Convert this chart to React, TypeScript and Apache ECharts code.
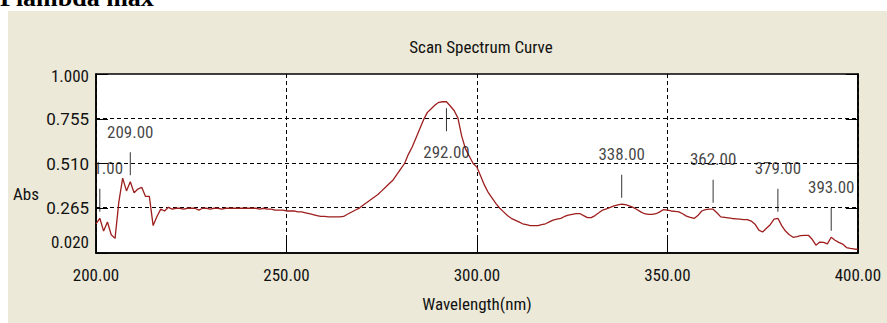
import React, { useEffect, useRef } from "react";
import * as echarts from "echarts";

// Scan spectrum, absorbance sampled every 1 nm from 200 nm to 400 nm
const startNm = 200;
const absorbance = [
  0.18, 0.21, 0.14, 0.19, 0.12, 0.1, 0.3, 0.43, 0.36, 0.41,
  0.35, 0.37, 0.38, 0.33, 0.33, 0.17, 0.22, 0.26, 0.25, 0.27,
  0.26, 0.265, 0.265, 0.26, 0.265, 0.265, 0.265, 0.255, 0.265, 0.265,
  0.26, 0.265, 0.265, 0.26, 0.265, 0.265, 0.265, 0.265, 0.265, 0.265,
  0.265, 0.265, 0.265, 0.26, 0.265, 0.26, 0.26, 0.255, 0.255, 0.255,
  0.25, 0.25, 0.25, 0.245, 0.245, 0.24, 0.235, 0.23, 0.225, 0.22,
  0.22, 0.218, 0.218, 0.218, 0.218, 0.22, 0.232, 0.243, 0.254, 0.264,
  0.28, 0.295, 0.31, 0.325, 0.34, 0.36, 0.38, 0.4, 0.42, 0.45,
  0.48, 0.51, 0.56, 0.6, 0.65, 0.7, 0.75, 0.79, 0.81, 0.83,
  0.845, 0.848, 0.848, 0.825, 0.8, 0.76, 0.66, 0.59, 0.55, 0.51,
  0.49, 0.44, 0.39, 0.35, 0.32, 0.29, 0.265, 0.245, 0.225, 0.21,
  0.2, 0.19, 0.18, 0.175, 0.17, 0.17, 0.17, 0.175, 0.18, 0.19,
  0.2, 0.205, 0.21, 0.22, 0.227, 0.232, 0.236, 0.236, 0.225, 0.214,
  0.214, 0.225, 0.24, 0.255, 0.262, 0.27, 0.278, 0.284, 0.287, 0.285,
  0.278, 0.27, 0.258, 0.245, 0.235, 0.232, 0.232, 0.235, 0.245, 0.258,
  0.255, 0.25, 0.248, 0.245, 0.235, 0.222, 0.215, 0.209, 0.225, 0.25,
  0.258, 0.26, 0.26, 0.24, 0.218, 0.215, 0.212, 0.209, 0.207, 0.205,
  0.203, 0.203, 0.195, 0.178, 0.145, 0.135, 0.155, 0.175, 0.205, 0.21,
  0.17, 0.14, 0.12, 0.106, 0.11, 0.115, 0.117, 0.117, 0.095, 0.063,
  0.08, 0.078, 0.07, 0.106, 0.09, 0.078, 0.069, 0.05, 0.045, 0.042,
  0.04,
];

// Wavelengths picked as peaks
const peakNm = [201, 209, 292, 338, 362, 379, 393];

const yTicks = [0.02, 0.265, 0.51, 0.755, 1.0];
const yGridLevels = [0.265, 0.51, 0.755];
const xMin = 200;
const xMax = 400;
const xStep = 50;

// Roboto is drawn in its condensed width (font-stretch set on the container)
const FONT = "Roboto, 'Noto Sans', sans-serif";
const PANEL = "#ECE9D8";
const CURVE = "#9E1E1E";

export default function App() {
  const ref = useRef<HTMLDivElement>(null);

  useEffect(() => {
    if (!ref.current) return;
    const chart = echarts.init(ref.current, undefined, { renderer: "svg" });

    const curve = absorbance.map((v, i) => [startNm + i, v]);

    const peaks = peakNm.map((nm) => {
      const v = absorbance[nm - startNm];
      const below = v > 0.7;
      // the leftmost label runs off the plot edge, only its tail shows
      const clipped = nm < 205;
      const text = nm.toFixed(2);
      return {
        value: [nm, v],
        symbolOffset: [0, below ? 18 : -18],
        label: {
          formatter: clipped ? text.slice(2) : text,
          offset: [clipped ? 8.5 : 0, below ? 32 : -32],
        },
      };
    });

    const axisText = {
      color: "#111",
      fontFamily: FONT,
      fontSize: 17,
      fontWeight: "normal",
    };

    chart.setOption({
      animation: false,
      backgroundColor: "#fff",
      title: {
        text: "Scan Spectrum Curve",
        left: 481,
        top: 38,
        padding: 0,
        textAlign: "center",
        textStyle: { ...axisText },
      },
      graphic: [
        {
          type: "rect",
          z: -10,
          shape: { x: 8, y: 11, width: 879, height: 312 },
          style: { fill: PANEL },
          silent: true,
        },
        {
          type: "text",
          x: 0,
          y: -3,
          style: {
            text: "Plambda max",
            font: "bold 26px 'Liberation Serif', 'Times New Roman', serif",
            fill: "#000",
            verticalAlign: "middle",
          },
          silent: true,
        },
        {
          type: "text",
          x: 13,
          y: 194,
          style: {
            text: "Abs",
            fontFamily: FONT,
            fontSize: 17,
            fill: "#111",
            verticalAlign: "middle",
          },
          silent: true,
        },
      ],
      grid: {
        left: 96,
        top: 74,
        right: 21,
        bottom: 70,
        show: true,
        backgroundColor: "#fff",
        borderColor: "#000",
        borderWidth: 1.5,
      },
      xAxis: {
        type: "value",
        min: xMin,
        max: xMax,
        interval: xStep,
        axisLine: { show: true, lineStyle: { color: "#000", width: 1.5 } },
        axisTick: {
          show: true,
          inside: true,
          length: 16,
          lineStyle: { color: "#000" },
        },
        axisLabel: {
          ...axisText,
          margin: 13,
          formatter: (v: number) => v.toFixed(2),
        },
        splitLine: {
          show: true,
          lineStyle: { color: "#000", type: [4, 3], width: 1 },
        },
        name: "Wavelength(nm)",
        nameLocation: "middle",
        nameGap: 42,
        nameTextStyle: { ...axisText },
      },
      yAxis: [
        {
          type: "value",
          min: 0.02,
          max: 1.0,
          position: "left",
          axisLine: { show: true, lineStyle: { color: "#000", width: 1.5 } },
          axisTick: {
            show: true,
            inside: true,
            length: 12,
            customValues: yTicks,
            lineStyle: { color: "#000" },
          },
          axisLabel: {
            ...axisText,
            margin: 7,
            customValues: yTicks,
            formatter: (v: number) => {
              const t = v.toFixed(3);
              if (Math.abs(v - 0.02) < 1e-6) return `{low|${t}}`;
              if (Math.abs(v - 1) < 1e-6) return `{high|${t}}`;
              return t;
            },
            rich: {
              low: { padding: [0, 0, 22, 0] },
              high: { padding: [4, 0, 0, 0] },
            },
          },
          splitLine: { show: false },
        },
        {
          type: "value",
          min: 0.02,
          max: 1.0,
          position: "right",
          axisLine: { show: true, lineStyle: { color: "#000", width: 1.5 } },
          axisTick: {
            show: true,
            inside: true,
            length: 12,
            customValues: yTicks,
            lineStyle: { color: "#000" },
          },
          axisLabel: { show: false },
          splitLine: { show: false },
        },
      ],
      series: [
        {
          type: "line",
          data: curve,
          showSymbol: false,
          symbol: "none",
          lineStyle: { color: CURVE, width: 1.3 },
          z: 3,
          markLine: {
            silent: true,
            symbol: ["none", "none"],
            label: { show: false },
            lineStyle: { color: "#000", type: [4, 3], width: 1 },
            data: yGridLevels.map((y) => ({ yAxis: y })),
            z: 1,
          },
        },
        {
          type: "scatter",
          data: peaks,
          symbol: "rect",
          symbolSize: [1, 23],
          itemStyle: { color: "#000" },
          silent: true,
          z: 4,
          label: {
            show: true,
            position: "inside",
            color: "#111",
            fontFamily: FONT,
            fontSize: 17,
          },
        },
      ],
    });

    return () => chart.dispose();
  }, []);

  return (
    <div
      ref={ref}
      style={{
        position: "absolute",
        left: 0,
        top: 0,
        width: 887,
        height: 323,
        fontStretch: "condensed",
      }}
    />
  );
}
